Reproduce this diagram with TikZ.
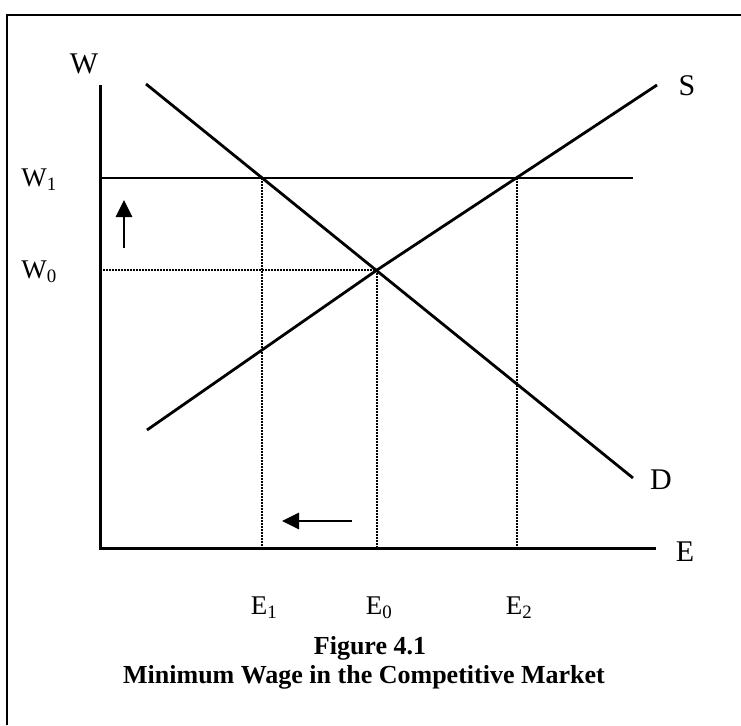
\documentclass[tikz,border=0pt]{standalone}
\usepackage{fontspec}
\setmainfont{Liberation Serif}
\usetikzlibrary{arrows.meta}
\begin{document}
\begin{tikzpicture}[x=1pt,y=-1pt,
  curve/.style={line width=2.8pt},
  axisline/.style={line width=3pt},
  guide/.style={line width=2pt, dash pattern=on 1.6pt off 1.4pt},
  bigarrow/.style={line width=2.8pt, -{Triangle[length=17pt,width=16pt]}},
  axlabel/.style={font=\fontsize{30}{34}\selectfont, inner sep=0pt},
  sublabel/.style={font=\fontsize{27}{31}\selectfont, inner sep=0pt},
  captext/.style={font=\bfseries\fontsize{26}{30}\selectfont, inner sep=0pt}]
\useasboundingbox (0,0) rectangle (741,725);
% frame
\coordinate (FrA) at (7,725);
\coordinate (FrB) at (7,15);
\coordinate (FrC) at (741,15);
\draw[line width=2.4pt] (FrA) -- (FrB) -- (FrC);
% key points
\coordinate (O) at (100,548);
\coordinate (Ytop) at (100,85);
\coordinate (Xend) at (656,548);
\coordinate (W1a) at (100,178);
\coordinate (W1b) at (633,178);
\coordinate (W0a) at (100,270);
\coordinate (P0) at (377,270);
\coordinate (P1) at (262,178);
\coordinate (P2) at (517,178);
\coordinate (E1b) at (262,548);
\coordinate (E0b) at (377,548);
\coordinate (E2b) at (517,548);
\coordinate (Dtop) at (146,84);
\coordinate (Dbot) at (633,478);
\coordinate (Sbot) at (147,430);
\coordinate (Stop) at (657,85);
\coordinate (UA1) at (124,248);
\coordinate (UA2) at (124,200);
\coordinate (LA1) at (352,521);
\coordinate (LA2) at (282,521);
% guides
\draw[guide] (W0a) -- (P0);
\draw[guide] (P1) -- (E1b);
\draw[guide] (P0) -- (E0b);
\draw[guide] (P2) -- (E2b);
% axes
\draw[axisline] (Ytop) -- (O) -- (Xend);
% minimum wage line
\draw[curve] (W1a) -- (W1b);
% demand and supply
\draw[curve] (Dtop) -- (Dbot);
\draw[curve] (Sbot) -- (P0) -- (Stop);
% arrows
\draw[bigarrow] (UA1) -- (UA2);
\draw[bigarrow] (LA1) -- (LA2);
% labels
\node[axlabel] (Wlab) at (84,64) {W};
\node[sublabel] (W1lab) at (39,180) {W\textsubscript{1}};
\node[sublabel] (W0lab) at (39,272) {W\textsubscript{0}};
\node[axlabel] (Slab) at (687,86) {S};
\node[axlabel] (Dlab) at (661,480) {D};
\node[axlabel] (Elab) at (685,552) {E};
\node[sublabel] (E1lab) at (264,608) {E\textsubscript{1}};
\node[sublabel] (E0lab) at (379,608) {E\textsubscript{0}};
\node[sublabel] (E2lab) at (519,608) {E\textsubscript{2}};
\node[captext] (Cap1) at (370,648) {Figure 4.1};
\node[captext] (Cap2) at (364,677) {Minimum Wage in the Competitive Market};
\end{tikzpicture}
\end{document}
